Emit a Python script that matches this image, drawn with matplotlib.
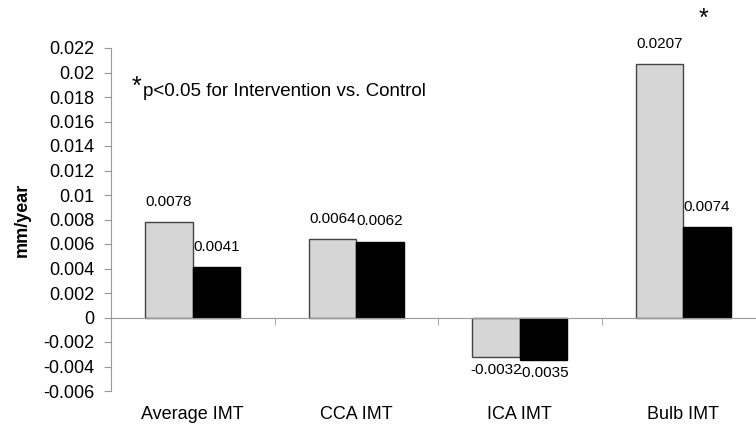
import matplotlib.pyplot as plt
import numpy as np

plt.rcParams["font.family"] = ["Liberation Sans", "DejaVu Sans"]

# IMT progression per year, intervention (grey) vs control (black)
categories = ["Average IMT", "CCA IMT", "ICA IMT", "Bulb IMT"]
intervention = [0.0078, 0.0064, -0.0032, 0.0207]
control = [0.0041, 0.0062, -0.0035, 0.0074]
value_labels_i = ["0.0078", "0.0064", "-0.0032", "0.0207"]
value_labels_c = ["0.0041", "0.0062", "-0.0035", "0.0074"]
significant = [False, False, False, True]
yticks = [-0.006, -0.004, -0.002, 0, 0.002, 0.004, 0.006, 0.008,
          0.01, 0.012, 0.014, 0.016, 0.018, 0.02, 0.022]

fig = plt.figure(figsize=(7.56, 4.28), dpi=100)
ax = fig.add_axes([111 / 756, 37 / 428, 654 / 756, 343 / 428])

x = np.arange(len(categories))
w = 0.29
ax.bar(x - w / 2, intervention, w, color="#d6d6d6", edgecolor="#444444", linewidth=1)
ax.bar(x + w / 2, control, w, color="black", edgecolor="black", linewidth=1)

ax.set_xlim(-0.5, len(categories) - 0.5)
ax.set_ylim(-0.006, 0.022)
ax.set_yticks(yticks)
ax.set_yticklabels([f"{v:g}" if v != 0 else "0" for v in yticks], fontsize=13)
ax.tick_params(axis="y", length=5, color="#999999", pad=7)

# zero line with category separators
ax.spines["top"].set_visible(False)
ax.spines["right"].set_visible(False)
ax.spines["bottom"].set_position(("data", 0))
ax.spines["bottom"].set_color("#999999")
ax.spines["left"].set_color("#999999")
ax.set_xticks(x)
ax.set_xticklabels([])
ax.tick_params(axis="x", which="major", length=0)
ax.set_xticks(x[:-1] + 0.5, minor=True)
ax.tick_params(axis="x", which="minor", length=5, color="#999999")

for i, cat in enumerate(categories):
    ax.text(i, -0.0079, cat, ha="center", va="center", fontsize=13)

# value labels
for i in range(len(categories)):
    for xpos, v, lab in [(i - w / 2, intervention[i], value_labels_i[i]),
                         (i + w / 2, control[i], value_labels_c[i])]:
        ypos = v + 0.00165 if v >= 0 else v - 0.00105
        ax.text(xpos, ypos, lab, ha="center", va="center", fontsize=11)
    if significant[i]:
        ax.text(i + w / 2 - 0.02, 0.0244, "*", ha="center", va="center",
                fontsize=18, clip_on=False)

ax.text(0.032, 0.886, "*", transform=ax.transAxes, fontsize=18, va="center")
ax.text(0.049, 0.872, "p<0.05 for Intervention vs. Control",
        transform=ax.transAxes, fontsize=13.5, va="center")

ax.set_ylabel("mm/year", fontsize=13, fontweight="bold", labelpad=9)

fig.savefig("out.png", dpi=100)
